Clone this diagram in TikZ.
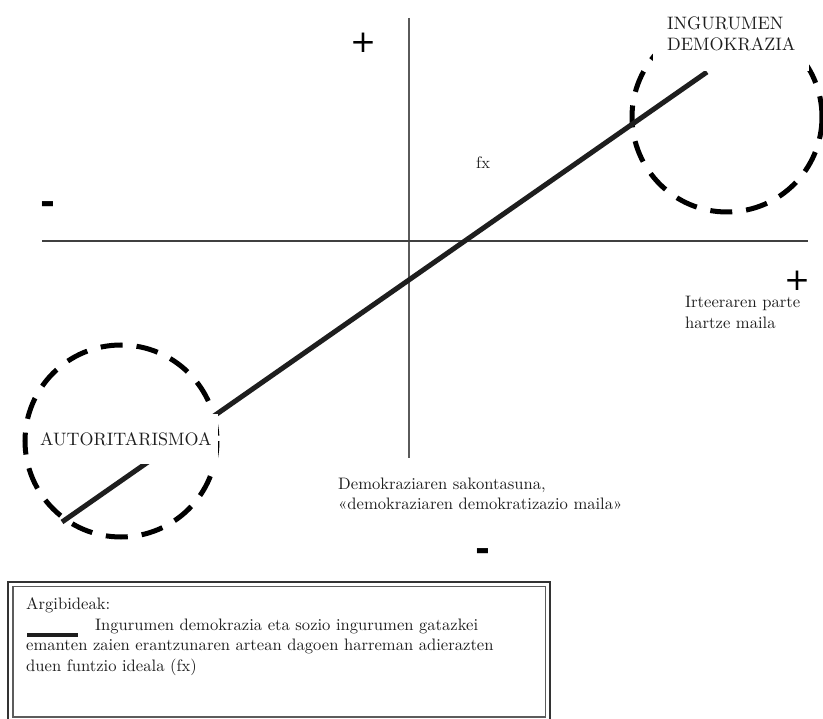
\documentclass[tikz,border=0pt]{standalone}
\usepackage{fontspec}
\setmainfont{lmroman10-regular.otf}[BoldFont=lmroman10-bold.otf, ItalicFont=lmroman10-italic.otf]
\newfontfamily\signfont{DejaVu Sans}
\definecolor{ink}{HTML}{1E1E1E}
\definecolor{axisgrey}{HTML}{5A5A5A}
\definecolor{framegrey}{HTML}{333333}
\begin{document}
\begin{tikzpicture}[x=1pt,y=-1pt,
  txt/.style={font=\fontsize{16.6}{20.5}\selectfont, text=ink, inner sep=0pt, align=left},
  capslabel/.style={font=\fontsize{18}{21}\selectfont, text=ink, align=left, fill=white},
  plussign/.style={font=\signfont\fontsize{31}{31}\selectfont, inner sep=0pt, text=black},
  minussign/.style={font=\signfont\bfseries\fontsize{36}{36}\selectfont, inner sep=0pt, text=black},
  zone/.style={draw=black, line width=5pt, dash pattern=on 22pt off 14pt},
  vaxis/.style={draw=axisgrey, line width=2.2pt},
  haxis/.style={draw=ink!85, line width=1.3pt},
  fxline/.style={draw=ink, line width=5pt},
  outerframe/.style={draw=framegrey, line width=2.6pt},
  innerframe/.style={draw=framegrey!80, line width=1.3pt}]
\useasboundingbox (0,0) rectangle (823,719);

% axes
\coordinate (ytop) at (409,18);
\coordinate (ybot) at (409,458);
\coordinate (xleft) at (42,241);
\coordinate (xright) at (808,241);
\draw[vaxis] (ytop) -- (ybot);
\draw[haxis] (xleft) -- (xright);

% dashed zones
\coordinate (ecocentre) at (727,117);
\coordinate (autocentre) at (121,441);
\draw[zone] (ecocentre) circle [radius=95];
\draw[zone] (autocentre) circle [radius=96];

% ideal function fx
\coordinate (fxlow) at (62,522);
\coordinate (fxhigh) at (707,72);
\draw[fxline] (fxlow) -- (fxhigh);

% zone labels (white backing hides the lines beneath)
\node[capslabel, anchor=west, inner xsep=14pt, inner ysep=20pt] (eco) at (653,33.5)
  {INGURUMEN\\DEMOKRAZIA};
\node[capslabel, anchor=west, inner xsep=6pt, inner ysep=18pt] (auto) at (34,439)
  {AUTORITARISMOA};

% axis texts
\node[txt, anchor=base west] (fx) at (476,169) {fx};
\node[txt, anchor=north west] (xlabel) at (685,296) {Irteeraren parte\\hartze maila};
\node[txt, anchor=north west] (ylabel) at (338,477.5)
  {Demokraziaren sakontasuna,\\«demokraziaren demokratizazio maila»};

% signs
\node[plussign] (ypos) at (363,43) {+};
\node[plussign] (xpos) at (797,280.5) {+};
\node[minussign] (xneg) at (48,208) {-};
\node[minussign] (yneg) at (483,555) {-};

% legend
\draw[outerframe] (8,582) rectangle (550,730);
\draw[innerframe] (13,586.5) rectangle (545.5,717);
\coordinate (keya) at (27,634.5);
\coordinate (keyb) at (78,634.5);
\draw[ink, line width=4pt] (keya) -- (keyb);
\node[txt, anchor=north west] (legend) at (26,597.5)
  {Argibideak:\\
   \hspace*{69pt}Ingurumen demokrazia eta sozio ingurumen gatazkei\\
   emanten zaien erantzunaren artean dagoen harreman adierazten\\
   duen funtzio ideala (fx)};
\end{tikzpicture}
\end{document}
